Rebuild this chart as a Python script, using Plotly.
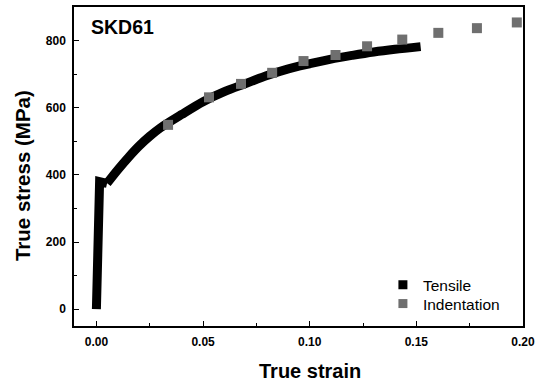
import plotly.graph_objects as go

# Tensile curve
tensile_strain = [0, 0.0015, 0.005, 0.01, 0.015, 0.02, 0.025, 0.03, 0.04, 0.05,
                  0.06, 0.07, 0.08, 0.09, 0.10, 0.11, 0.12, 0.13, 0.14, 0.152]
tensile_stress = [0, 380, 375, 415, 452, 486, 515, 540, 580, 618,
                  648, 672, 696, 716, 731, 745, 756, 766, 774, 782]

# Indentation points
indent_strain = [0.0336, 0.0528, 0.0678, 0.0824, 0.0971, 0.1121, 0.1269,
                 0.1434, 0.1603, 0.1784, 0.1971]
indent_stress = [549, 631, 671, 704, 739, 757, 783, 803, 823, 837, 854]

x_ticks = [0.00, 0.05, 0.10, 0.15, 0.20]
y_ticks = [0, 200, 400, 600, 800]

FONT = "Liberation Sans, Arial, sans-serif"
GRAY = "#6f6f6f"

fig = go.Figure()
# elastic part + yield plateau (straight segments)
fig.add_trace(go.Scatter(x=tensile_strain[:3], y=tensile_stress[:3], mode="lines",
                         line=dict(color="black", width=9), showlegend=False,
                         name="Tensile"))
# hardening part (smooth)
fig.add_trace(go.Scatter(x=tensile_strain[2:], y=tensile_stress[2:], mode="lines",
                         line=dict(color="black", width=9, shape="spline", smoothing=0.8),
                         showlegend=False, name="Tensile"))
fig.add_trace(go.Scatter(x=indent_strain, y=indent_stress, mode="markers",
                         marker=dict(symbol="square", size=10, color=GRAY),
                         showlegend=False, name="Indentation"))
# legend entries
fig.add_trace(go.Scatter(x=[None], y=[None], mode="markers", name="Tensile",
                         marker=dict(symbol="square", size=9, color="black"),
                         legend="legend"))
fig.add_trace(go.Scatter(x=[None], y=[None], mode="markers", name="Indentation",
                         marker=dict(symbol="square", size=9, color=GRAY),
                         legend="legend2"))

fig.add_annotation(text="<b>SKD61</b>", xref="paper", yref="paper",
                   x=0.034, y=0.938, xanchor="left", yanchor="middle",
                   showarrow=False, font=dict(family=FONT, size=19.5, color="black"))
# axis titles (placed as in the reference, slightly off-centre)
fig.add_annotation(text="<b>True strain</b>", xref="paper", yref="paper",
                   x=0.5256, y=-0.14, xanchor="center", yanchor="middle",
                   showarrow=False, font=dict(family=FONT, size=20, color="black"))
fig.add_annotation(text="<b>True stress (MPa)</b>", xref="paper", yref="paper",
                   x=-0.1158, y=0.47, xanchor="center", yanchor="middle", textangle=-90,
                   showarrow=False, font=dict(family=FONT, size=20.5, color="black"))

axis_common = dict(showline=True, linecolor="black", linewidth=1.5, mirror=True,
                   ticks="inside", ticklen=5, tickwidth=1, tickcolor="black",
                   showgrid=False, zeroline=False,
                   tickfont=dict(family=FONT, size=12, color="black"))

fig.update_xaxes(range=[-0.0105, 0.2], tickvals=x_ticks,
                 ticktext=["<b>%.2f</b>" % v for v in x_ticks],
                 minor=dict(ticks="inside", ticklen=3, dtick=0.025, tick0=0, tickcolor="black"),
                 ticklabelstandoff=4,
                 **axis_common)
fig.update_yaxes(range=[-50, 900], tickvals=y_ticks,
                 ticktext=["<b>%d</b>" % v for v in y_ticks],
                 minor=dict(ticks="inside", ticklen=3, dtick=100, tick0=0, tickcolor="black"),
                 ticklabelstandoff=4,
                 **axis_common)

legend_common = dict(xanchor="left", yanchor="middle", bgcolor="rgba(0,0,0,0)",
                     font=dict(family=FONT, size=15.5, color="black"))
fig.update_layout(width=543, height=384, margin=dict(l=74, r=20, t=5, b=58),
                  plot_bgcolor="white", paper_bgcolor="white",
                  legend=dict(x=0.688, y=0.128, **legend_common),
                  legend2=dict(x=0.688, y=0.069, **legend_common),
                  font=dict(family=FONT))

fig.write_html("out.html", config={"displayModeBar": False},
               post_script="document.body.style.margin='0';document.body.style.padding='0';")
